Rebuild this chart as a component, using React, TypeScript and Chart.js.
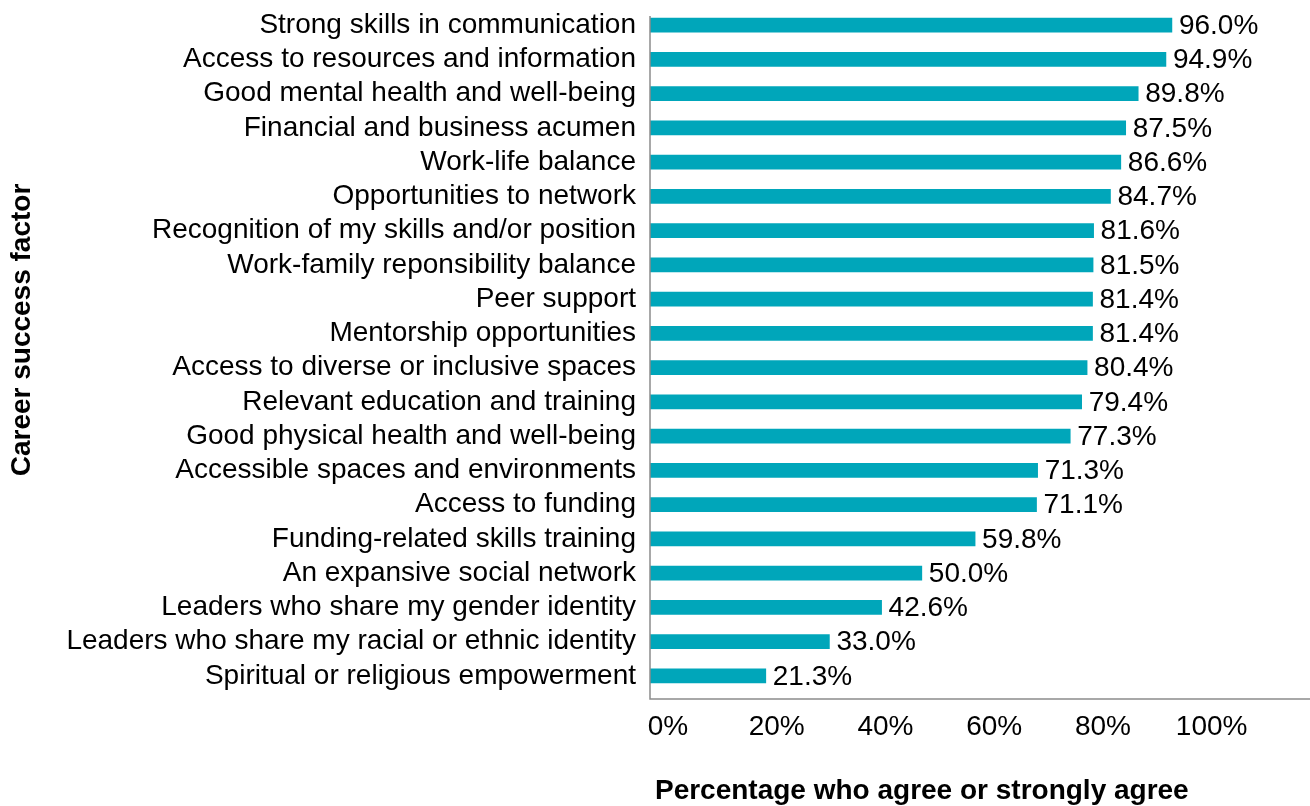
import React, { useEffect, useRef } from "react";
import { Chart, registerables } from "chart.js";

Chart.register(...registerables);

const categories = [
  "Strong skills in communication",
  "Access to resources and information",
  "Good mental health and well-being",
  "Financial and business acumen",
  "Work-life balance",
  "Opportunities to network",
  "Recognition of my skills and/or position",
  "Work-family reponsibility balance",
  "Peer support",
  "Mentorship opportunities",
  "Access to diverse or inclusive spaces",
  "Relevant education and training",
  "Good physical health and well-being",
  "Accessible spaces and environments",
  "Access to funding",
  "Funding-related skills training",
  "An expansive social network",
  "Leaders who share my gender identity",
  "Leaders who share my racial or ethnic identity",
  "Spiritual or religious empowerment",
];

const values = [
  96.0, 94.9, 89.8, 87.5, 86.6, 84.7, 81.6, 81.5, 81.4, 81.4,
  80.4, 79.4, 77.3, 71.3, 71.1, 59.8, 50.0, 42.6, 33.0, 21.3,
];

const xTicks = [0, 20, 40, 60, 80, 100];
const xMax = 121.4;
const xTitle = "Percentage who agree or strongly agree";
const yTitle = "Career success factor";

const FONT = '"Liberation Sans", Arial, Helvetica, sans-serif';
const BAR_COLOR = "#00A6BA";
const AXIS_COLOR = "#8c8c8c";
const TEXT_COLOR = "#000000";

export default function App() {
  const canvasRef = useRef<HTMLCanvasElement | null>(null);

  useEffect(() => {
    const canvas = canvasRef.current;
    if (!canvas) return;

    const overlay = {
      id: "overlay",
      afterDatasetsDraw(chart: any) {
        const { ctx, chartArea, scales } = chart;
        const xs = scales.x;
        ctx.save();

        // value labels
        const meta = chart.getDatasetMeta(0);
        ctx.font = `28px ${FONT}`;
        ctx.fillStyle = TEXT_COLOR;
        ctx.textAlign = "left";
        ctx.textBaseline = "middle";
        meta.data.forEach((el: any, i: number) => {
          ctx.fillText(values[i].toFixed(1) + "%", el.x + 7, el.y + 1);
        });

        // axis lines
        const x0 = xs.getPixelForValue(0);
        const yBottom = chartArea.bottom + 6;
        ctx.strokeStyle = AXIS_COLOR;
        ctx.lineWidth = 1.5;
        ctx.beginPath();
        ctx.moveTo(x0, chartArea.top + 8);
        ctx.lineTo(x0, yBottom);
        ctx.lineTo(chartArea.right, yBottom);
        ctx.stroke();

        // x title
        ctx.font = `bold 28px ${FONT}`;
        ctx.textAlign = "center";
        ctx.textBaseline = "alphabetic";
        ctx.fillText(xTitle, xs.getPixelForValue(50), 799);

        // y title
        ctx.translate(22, 330);
        ctx.rotate(-Math.PI / 2);
        ctx.textBaseline = "middle";
        ctx.fillText(yTitle, 0, 0);

        ctx.restore();
      },
    };

    const chart = new Chart(canvas, {
      type: "bar",
      data: {
        labels: categories,
        datasets: [
          {
            data: values,
            backgroundColor: BAR_COLOR,
            borderWidth: 0,
            barThickness: 14,
          },
        ],
      },
      options: {
        indexAxis: "y",
        responsive: false,
        animation: false,
        events: [],
        layout: { padding: { top: 8, left: 0, right: 0, bottom: 0 } },
        plugins: {
          legend: { display: false },
          tooltip: { enabled: false },
          title: { display: false },
        },
        scales: {
          x: {
            type: "linear",
            min: 0,
            max: xMax,
            grid: { display: false, drawTicks: false },
            border: { display: false },
            afterBuildTicks: (scale: any) => {
              scale.ticks = xTicks.map((v) => ({ value: v }));
            },
            afterFit: (scale: any) => {
              scale.height = 113;
              scale.paddingLeft = 0;
              scale.paddingRight = 0;
            },
            ticks: {
              padding: 17,
              labelOffset: 18,
              color: TEXT_COLOR,
              font: { family: FONT, size: 28 },
              maxRotation: 0,
              callback: (v: any) => `${v}%`,
            },
          },
          y: {
            type: "category",
            grid: { display: false, drawTicks: false },
            border: { display: false },
            afterFit: (scale: any) => {
              scale.width = 650;
              scale.paddingTop = 0;
              scale.paddingBottom = 0;
            },
            ticks: {
              padding: 14,
              autoSkip: false,
              color: TEXT_COLOR,
              font: { family: FONT, size: 28 },
            },
          },
        },
      },
      plugins: [overlay],
    } as any);

    return () => {
      chart.destroy();
    };
  }, []);

  return (
    <div style={{ position: "absolute", left: 0, top: 0, width: 1310, height: 806, background: "#fff" }}>
      <canvas ref={canvasRef} width={1310} height={806} style={{ display: "block" }} />
    </div>
  );
}
